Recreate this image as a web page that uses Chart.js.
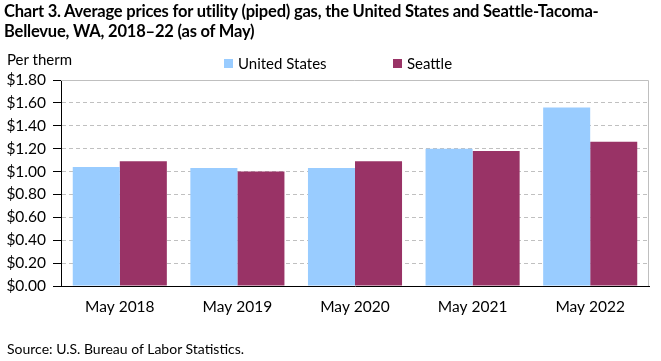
<!DOCTYPE html>
<html>
<head>
<meta charset="utf-8">
<script src="https://cdn.jsdelivr.net/npm/chart.js@4"></script>
<style>
  body { margin: 0; background: #fff; font-family: Lato, "Noto Sans", sans-serif; color: #000; }
  #wrap { position: relative; width: 661px; height: 361px; overflow: hidden; }
  #myChart { position: absolute; left: 0; top: 0; }
  .title { position: absolute; left: 4px; top: 1px; font-weight: bold; font-size: 16.5px; line-height: 20px; letter-spacing: -0.2px; }
  .unit { position: absolute; left: 7px; top: 50px; font-size: 15px; }
  .legend { position: absolute; top: 54px; font-size: 15px; display: flex; align-items: center; }
  .legend span.box { display: inline-block; width: 9px; height: 9px; margin-right: 5px; }
  .source { position: absolute; left: 7px; top: 340px; font-size: 14px; }
</style>
</head>
<body>
<div id="wrap">
  <canvas id="myChart" width="661" height="361"></canvas>
  <div class="title">Chart 3. Average prices for utility (piped) gas, the United States and Seattle-Tacoma-<br>Bellevue, WA, 2018–22 (as of May)</div>
  <div class="unit">Per therm</div>
  <div class="legend" style="left:224px"><span class="box" style="background:#99ccff"></span>United States</div>
  <div class="legend" style="left:393px"><span class="box" style="background:#993366"></span>Seattle</div>
  <div class="source">Source: U.S. Bureau of Labor Statistics.</div>
</div>
<script>
"use strict";

//////// data ////////
const years = ["May 2018", "May 2019", "May 2020", "May 2021", "May 2022"];
const usPrices = [1.04, 1.03, 1.03, 1.2, 1.56];
const seattlePrices = [1.09, 1.0, 1.09, 1.18, 1.26];
const yTicks = [0, 0.2, 0.4, 0.6, 0.8, 1.0, 1.2, 1.4, 1.6, 1.8];

const blue = "#99ccff";
const purple = "#993366";

// gray frame on top and right of the plot area
const framePlugin = {
  id: "frame",
  afterDraw(chart) {
    const { ctx, chartArea: a } = chart;
    ctx.save();
    ctx.strokeStyle = "#bfbfbf";
    ctx.lineWidth = 1;
    ctx.beginPath();
    ctx.moveTo(a.left, a.top + 0.5);
    ctx.lineTo(a.right - 0.5, a.top + 0.5);
    ctx.lineTo(a.right - 0.5, a.bottom);
    ctx.stroke();
    ctx.restore();
  },
};

const ctx = document.getElementById("myChart");

new Chart(ctx, {
  type: "bar",
  data: {
    labels: years,
    datasets: [
      {
        label: "United States",
        data: usPrices,
        backgroundColor: blue,
        barPercentage: 1,
        categoryPercentage: 0.8,
      },
      {
        label: "Seattle",
        data: seattlePrices,
        backgroundColor: purple,
        barPercentage: 1,
        categoryPercentage: 0.8,
      },
    ],
  },
  options: {
    responsive: false,
    animation: false,
    events: [],
    layout: { padding: { left: 0, right: 12, top: 80, bottom: 0 } },
    plugins: {
      legend: { display: false },
      tooltip: { enabled: false },
    },
    scales: {
      x: {
        grid: { display: false, drawTicks: false },
        border: { color: "#000", width: 1 },
        ticks: {
          color: "#000",
          padding: 12,
          font: { family: "Lato", size: 15.5 },
        },
        afterFit(scale) {
          scale.height = 75;
        },
      },
      y: {
        min: 0,
        max: 1.8,
        afterBuildTicks(scale) {
          scale.ticks = yTicks.map((v) => ({ value: v }));
        },
        grid: {
          color: "#c0c0c0",
          tickColor: "#000",
          tickLength: 8,
          tickBorderDash: [],
        },
        border: { color: "#000", width: 1, dash: [4, 3] },
        ticks: {
          color: "#000",
          padding: 7,
          font: { family: "Lato", size: 15.5 },
          callback: (v) => "$" + Number(v).toFixed(2),
        },
        afterFit(scale) {
          scale.width = 61;
        },
      },
    },
  },
  plugins: [framePlugin],
});
</script>
</body>
</html>
